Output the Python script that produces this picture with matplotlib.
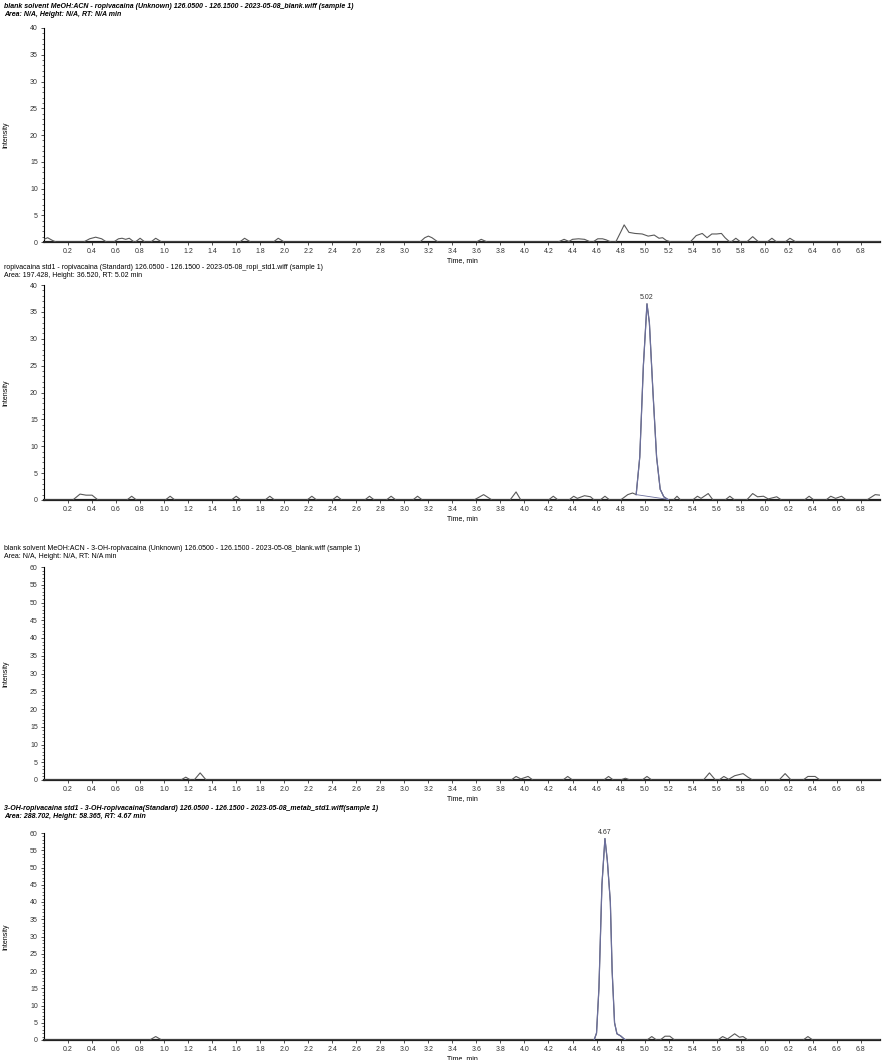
import matplotlib
matplotlib.use("Agg")
import matplotlib.pyplot as plt
import numpy as np

plt.rcParams['font.family'] = ['Liberation Sans', 'DejaVu Sans']

# ---- data (time in min, intensity) ----
blank_ropi_t = [0.00, 0.03, 0.07, 0.10,
                0.33, 0.38, 0.43, 0.48, 0.52,
                0.58, 0.62, 0.65, 0.68, 0.71, 0.75,
                0.76, 0.80, 0.84,
                0.89, 0.93, 0.98,
                1.63, 1.67, 1.72,
                1.91, 1.95, 2.00,
                3.13, 3.17, 3.20, 3.23, 3.28,
                3.60, 3.64, 3.69,
                4.28, 4.33, 4.37, 4.40, 4.45, 4.50, 4.55,
                4.57, 4.61, 4.65, 4.68, 4.72,
                4.76, 4.80, 4.83, 4.87, 4.92, 4.98, 5.03, 5.08, 5.12, 5.15, 5.18, 5.22,
                5.38, 5.43, 5.48, 5.52, 5.56, 5.60, 5.64, 5.67, 5.71,
                5.72, 5.76, 5.80,
                5.85, 5.90, 5.95,
                6.02, 6.06, 6.10,
                6.17, 6.21, 6.26,
                6.96]
blank_ropi_y = [0.5, 0.8, 0.3, 0,
                0, 0.6, 0.9, 0.6, 0,
                0, 0.6, 0.7, 0.5, 0.7, 0,
                0, 0.7, 0,
                0, 0.7, 0,
                0, 0.7, 0,
                0, 0.7, 0,
                0, 0.8, 1.1, 0.8, 0,
                0, 0.5, 0,
                0, 0.5, 0.1, 0.5, 0.6, 0.5, 0,
                0, 0.6, 0.6, 0.4, 0,
                0, 1.8, 3.2, 1.8, 1.6, 1.5, 1.1, 1.3, 0.7, 0.8, 0.3, 0,
                0, 1.2, 1.6, 0.8, 1.5, 1.5, 1.6, 0.8, 0,
                0, 0.7, 0,
                0, 1.0, 0,
                0, 0.7, 0,
                0, 0.7, 0,
                0]

ropi_std_t = [0.00, 0.24, 0.30, 0.35, 0.40, 0.45,
              0.69, 0.73, 0.77,
              1.01, 1.05, 1.09,
              1.56, 1.60, 1.64,
              1.84, 1.88, 1.92,
              2.19, 2.23, 2.27,
              2.40, 2.44, 2.48,
              2.67, 2.71, 2.75,
              2.85, 2.89, 2.93,
              3.07, 3.11, 3.15,
              3.58, 3.66, 3.73,
              3.88, 3.93, 3.97,
              4.20, 4.24, 4.28,
              4.37, 4.41, 4.44, 4.50, 4.55, 4.58,
              4.63, 4.67, 4.71,
              4.80, 4.86, 4.90, 4.93, 4.96, 4.99, 5.02, 5.04, 5.07, 5.10, 5.13, 5.16, 5.20,
              5.24, 5.27, 5.30,
              5.40, 5.44, 5.47, 5.53, 5.57,
              5.67, 5.71, 5.75,
              5.85, 5.90, 5.94, 5.99, 6.03, 6.10, 6.14,
              6.33, 6.37, 6.41,
              6.51, 6.55, 6.59, 6.64, 6.68,
              6.85, 6.92, 6.96]
ropi_std_y = [0, 0, 1.1, 0.9, 0.9, 0,
              0, 0.7, 0,
              0, 0.7, 0,
              0, 0.7, 0,
              0, 0.7, 0,
              0, 0.7, 0,
              0, 0.7, 0,
              0, 0.7, 0,
              0, 0.7, 0,
              0, 0.7, 0,
              0, 1.0, 0,
              0, 1.5, 0,
              0, 0.7, 0,
              0, 0.7, 0.3, 0.8, 0.6, 0,
              0, 0.7, 0,
              0, 1.0, 1.3, 1.0, 8.0, 25.0, 36.5, 33.0, 20.0, 8.0, 2.0, 0.6, 0,
              0, 0.7, 0,
              0, 0.7, 0.3, 1.2, 0,
              0, 0.7, 0,
              0, 1.2, 0.6, 0.7, 0.2, 0.6, 0,
              0, 0.7, 0,
              0, 0.7, 0.3, 0.7, 0,
              0, 1.0, 0.9]

blank_3oh_t = [0.00, 1.14, 1.18, 1.22,
               1.25, 1.30, 1.35,
               3.89, 3.93, 3.97, 4.03, 4.07,
               4.32, 4.36, 4.40,
               4.66, 4.70, 4.74,
               4.80, 4.84, 4.88,
               4.98, 5.02, 5.06,
               5.49, 5.54, 5.59,
               5.62, 5.66, 5.70, 5.75, 5.82, 5.86, 5.90,
               6.12, 6.17, 6.22,
               6.32, 6.36, 6.42, 6.46,
               6.96]
blank_3oh_y = [0, 0, 0.8, 0,
               0, 2.0, 0,
               0, 1.0, 0.3, 1.0, 0,
               0, 1.0, 0,
               0, 1.0, 0,
               0, 0.5, 0,
               0, 1.0, 0,
               0, 2.0, 0,
               0, 1.0, 0.2, 1.2, 1.8, 0.8, 0,
               0, 1.8, 0,
               0, 1.0, 1.0, 0,
               0]

oh_std_t = [0.00, 0.88, 0.93, 0.98,
            4.58, 4.60, 4.62, 4.645, 4.67, 4.69, 4.715, 4.73, 4.75, 4.77, 4.80, 4.84,
            5.02, 5.06, 5.10,
            5.13, 5.17, 5.21, 5.25,
            5.61, 5.65, 5.69, 5.75, 5.79, 5.82, 5.86,
            6.32, 6.36, 6.40,
            6.96]
oh_std_y = [0, 0, 1.0, 0,
            0, 2.0, 15.0, 45.0, 58.4, 52.0, 40.0, 20.0, 5.0, 1.8, 1.2, 0,
            0, 1.0, 0,
            0, 1.1, 1.1, 0,
            0, 1.0, 0.3, 1.8, 0.8, 1.0, 0,
            0, 1.0, 0,
            0]

titles = [
    ("blank solvent MeOH:ACN - ropivacaina (Unknown) 126.0500 - 126.1500 - 2023-05-08_blank.wiff (sample 1)",
     "Area: N/A, Height: N/A, RT: N/A min"),
    ("ropivacaina std1 - ropivacaina (Standard) 126.0500 - 126.1500 - 2023-05-08_ropi_std1.wiff (sample 1)",
     "Area: 197.428, Height: 36.520, RT: 5.02 min"),
    ("blank solvent MeOH:ACN - 3-OH-ropivacaina (Unknown) 126.0500 - 126.1500 - 2023-05-08_blank.wiff (sample 1)",
     "Area: N/A, Height: N/A, RT: N/A min"),
    ("3-OH-ropivacaina std1 - 3-OH-ropivacaina(Standard) 126.0500 - 126.1500 - 2023-05-08_metab_std1.wiff(sample 1)",
     "Area: 288.702, Height: 58.365, RT: 4.67 min"),
]
title_bold = [True, False, False, True]
y_max = [40, 40, 60, 60]
traces = [(blank_ropi_t, blank_ropi_y), (ropi_std_t, ropi_std_y),
          (blank_3oh_t, blank_3oh_y), (oh_std_t, oh_std_y)]
x_ticks = [round(0.2 * i, 1) for i in range(1, 35)]

# peak info: (panel, rt label, start, end, baseline start y, baseline end y)
peaks = [(1, 5.02, 4.93, 5.20, 1.0, 0.1),
         (3, 4.67, 4.58, 4.84, 0.0, 0.0)]

W, H = 886, 1060
fig = plt.figure(figsize=(W / 100, H / 100), dpi=100)

# axes boxes in pixels: (top, bottom)
boxes = [(28, 242), (285, 500), (567, 780), (833, 1040)]
left_px, right_px = 44, 880
title_y = [(7, 15), (268, 276), (548, 557), (808, 816)]

trace_color = '#595959'
peak_color = '#6b6f9c'

axes = []
for i, (top, bot) in enumerate(boxes):
    ax = fig.add_axes([left_px / W, 1 - bot / H, (right_px - left_px) / W, (bot - top) / H])
    axes.append(ax)
    t, y = traces[i]
    ax.plot(t, y, color=trace_color, lw=0.8, zorder=3)
    ax.set_xlim(0, 6.96)
    ax.set_ylim(0, y_max[i])
    ax.set_yticks(np.arange(0, y_max[i] + 1, 5))
    ax.set_yticks(np.arange(0, y_max[i] + 1, 1), minor=True)
    ax.set_xticks(x_ticks)
    ax.set_xticklabels([f'{v:.1f}' for v in x_ticks])
    ax.tick_params(axis='both', labelsize=5, length=2.5, width=0.6, pad=2, colors='#333333')
    ax.tick_params(axis='y', which='minor', length=1.2, width=0.4)
    ax.spines['top'].set_visible(False)
    ax.spines['right'].set_visible(False)
    ax.spines['left'].set_linewidth(0.8)
    ax.spines['bottom'].set_linewidth(1.6)
    ax.spines['bottom'].set_color('#222222')
    ax.set_xlabel('Time, min', fontsize=5, labelpad=1)
    ax.set_ylabel('Intensity', fontsize=5, labelpad=12)
    ax.yaxis.set_label_coords(-0.041, 0.5)
    ax.set_facecolor('white')

    l1, l2 = titles[i]
    style = 'italic' if title_bold[i] else 'normal'
    weight = 'bold' if title_bold[i] else 'normal'
    fig.text(4 / W, 1 - title_y[i][0] / H, l1, fontsize=5, fontstyle=style,
             fontweight=weight, va='center', ha='left')
    fig.text(4 / W, 1 - title_y[i][1] / H, l2, fontsize=5, fontstyle=style,
             fontweight=weight, va='center', ha='left')

# highlight integrated peaks
for p, rt, t0, t1, b0, b1 in peaks:
    ax = axes[p]
    t, y = traces[p]
    seg_t = [tt for tt in t if t0 <= tt <= t1]
    seg_y = [yy for tt, yy in zip(t, y) if t0 <= tt <= t1]
    ax.plot(seg_t, seg_y, color=peak_color, lw=0.9, zorder=4)
    base_color = '#c04040' if b0 == 0 else peak_color
    ax.plot([t0, t1], [b0, b1], color=base_color, lw=0.6, zorder=4)
    ax.annotate(f'{rt:.2f}', (rt, max(seg_y)), xytext=(0, 2), textcoords='offset points',
                ha='center', va='bottom', fontsize=5, color='#333333')

fig.savefig('out.png', dpi=100, facecolor='white')
